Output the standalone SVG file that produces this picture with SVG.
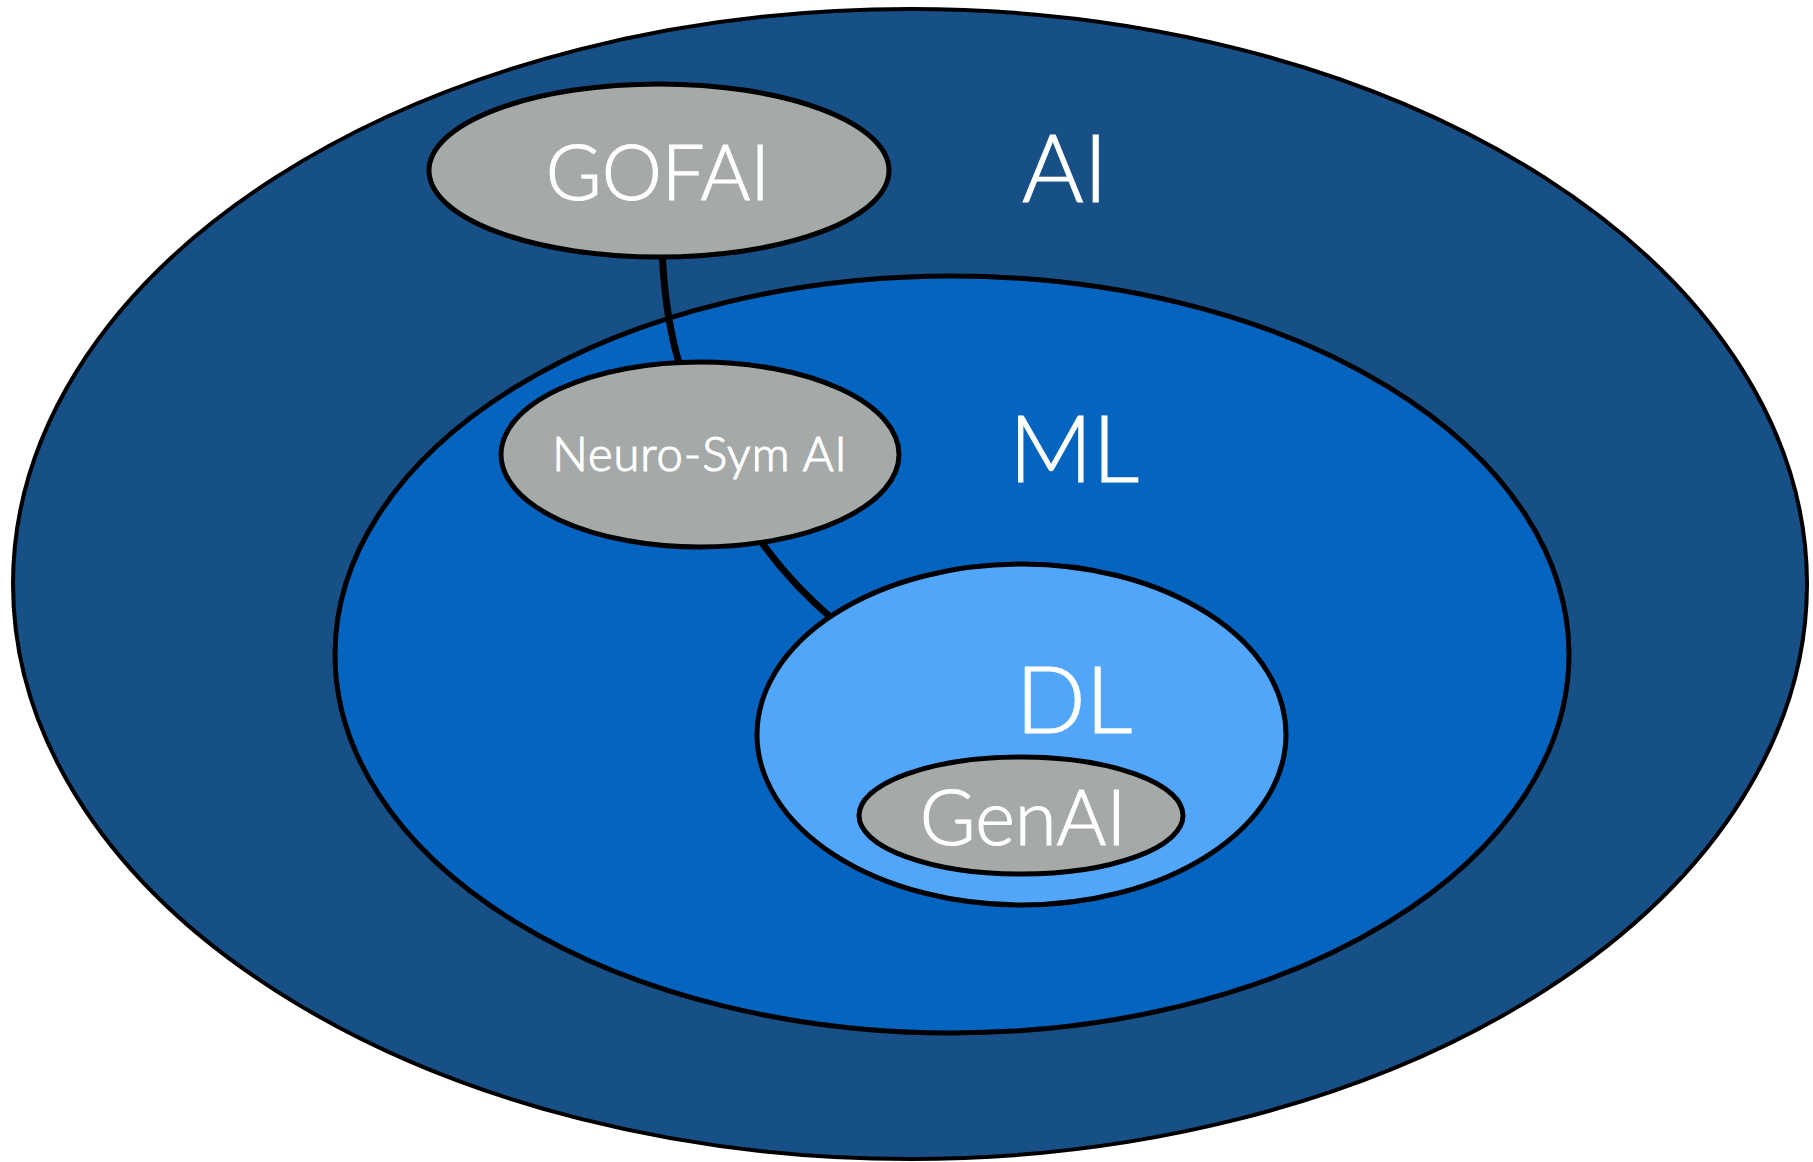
<svg xmlns="http://www.w3.org/2000/svg" width="1813" height="1162" viewBox="0 0 1813 1162">
<style>
  .sh { stroke: #000; stroke-width: 5; }
  .gray { fill: #a5a9a8; }
  .lbl { fill: #fff; stroke: #fff; stroke-width: 1.2; font-family: Lato, "Open Sans", sans-serif; font-weight: 300; text-anchor: middle; }
  .conn { fill: none; stroke: #000; stroke-width: 7; }
</style>
<rect width="1813" height="1162" fill="#fff"/>
<g id="ai">
  <ellipse cx="910" cy="584" rx="897" ry="575" fill="#174f87" stroke="#000" stroke-width="4"/>
  <text class="lbl" x="1065" y="202" font-size="94">AI</text>
</g>
<g id="ml">
  <ellipse cx="952" cy="654.5" rx="617" ry="378.5" fill="#0464bf" class="sh"/>
  <text class="lbl" x="1074" y="482" font-size="92">ML</text>
</g>
<g id="connectors">
  <path class="conn" d="M 662 250 Q 665 318 680 366"/>
  <path class="conn" d="M 760 540 Q 790 583 836 622"/>
</g>
<g id="gofai">
  <ellipse cx="659" cy="170.5" rx="230" ry="86.5" class="gray sh"/>
  <text class="lbl" x="658" y="200" font-size="76">GOFAI</text>
</g>
<g id="neurosym">
  <ellipse cx="700" cy="454.5" rx="199" ry="92.5" class="gray sh"/>
  <text class="lbl" x="700" y="471" font-size="47" letter-spacing="1" stroke-width="0.8">Neuro-Sym AI</text>
</g>
<g id="dl">
  <ellipse cx="1021.5" cy="734.5" rx="264.5" ry="170.5" fill="#51a6fa" class="sh"/>
  <text class="lbl" x="1074" y="733" font-size="92">DL</text>
</g>
<g id="genai">
  <ellipse cx="1021" cy="815.5" rx="162" ry="58.5" class="gray sh"/>
  <text class="lbl" x="1023" y="845" font-size="76">GenAI</text>
</g>
</svg>
